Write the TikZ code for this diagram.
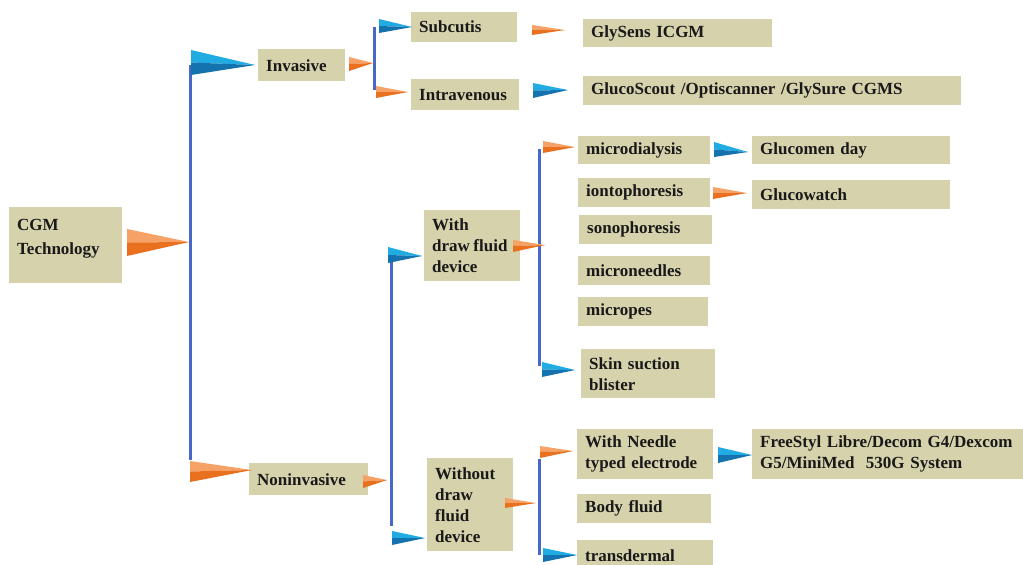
\documentclass[tikz,border=0pt]{standalone}
\usepackage{fontspec}
\setmainfont{Liberation Serif}
\definecolor{boxfill}{RGB}{214,210,172}
\definecolor{olight}{RGB}{246,162,102}
\definecolor{odark}{RGB}{232,112,30}
\definecolor{blight}{RGB}{32,172,226}
\definecolor{bdark}{RGB}{20,114,174}
\definecolor{lineblue}{RGB}{72,104,200}
\tikzset{
  box/.style={fill=boxfill, draw=none, anchor=north west, inner xsep=8pt, inner ysep=0pt,
    align=left, font=\bfseries\fontsize{17}{21}\selectfont, text=black!90},
  vline/.style={draw=lineblue, line width=3pt},
}
\newcommand{\mybox}[7][]{%
  \pgfmathsetmacro{\bw}{#5-#3}\pgfmathsetmacro{\bh}{#6-#4}\pgfmathsetmacro{\tw}{#5-#3-16}%
  \node[box, minimum width=\bw pt, minimum height=\bh pt, text width=\tw pt, #1] (#2) at (#3,#4) {#7};%
}
\newcommand{\flag}[7]{%
  \fill[#1] (#3,#4) -- (#6,#7) -- (#3,{(#4+#5)/2}) -- cycle;
  \fill[#2] (#3,{(#4+#5)/2}) -- (#6,#7) -- (#3,#5) -- cycle;
}
\newcommand{\oflag}{\flag{olight}{odark}}
\newcommand{\bflag}{\flag{blight}{bdark}}
\begin{document}
\begin{tikzpicture}[x=1pt,y=-1pt]
\useasboundingbox (0,0) rectangle (1023,565);
\fill[white] (0,0) rectangle (1023,565);
\clip (0,0) rectangle (1023,565);

% boxes
\mybox{cgm}{9}{207}{122}{283}{\fontsize{17}{24}\selectfont CGM\\Technology\\[-4pt]\mbox{}}
\mybox{inv}{258}{49}{345}{81}{Invasive}
\mybox{sub}{411}{12}{517}{42}{Subcutis}
\mybox{intra}{411}{79}{519}{110}{Intravenous}
\mybox{glys}{583}{19}{772}{47}{GlySens ICGM}
\mybox{glucos}{583}{76}{961}{105}{GlucoScout /Optiscanner /GlySure CGMS}
\mybox{noninv}{249}{463}{368}{495}{Noninvasive}
\mybox{withd}{424}{210}{520}{281}{With\\draw\hspace{3.5pt}fluid\\device}
\mybox{without}{427}{458}{513}{551}{Without\\draw\\fluid\\device}
\mybox{micro}{578}{136}{710}{164}{microdialysis}
\mybox{ionto}{578}{178}{710}{207}{iontophoresis}
\mybox{sono}{579}{215}{712}{244}{sonophoresis}
\mybox{needles}{578}{256}{710}{285}{microneedles}
\mybox{micropes}{578}{297}{708}{326}{micropes}
\mybox{skin}{581}{349}{715}{398}{Skin suction\\blister}
\mybox{gday}{752}{136}{950}{164}{Glucomen day}
\mybox{gwatch}{752}{180}{950}{209}{Glucowatch}
\mybox{needle}{577}{429}{713}{479}{With Needle\\typed electrode}
\mybox{body}{577}{494}{711}{523}{Body fluid}
\mybox{trans}{577}{540}{713}{570}{transdermal}
\mybox{free}{752}{429}{1040}{479}{FreeStyl Libre/Decom G4/Dexcom\\G5/MiniMed\ \ 530G System}

% bracket lines
\draw[vline] (190,65) -- (190,460);
\draw[vline] (374,27) -- (374,90);
\draw[vline] (391,258) -- (391,526);
\draw[vline] (539,149) -- (539,366);
\draw[vline] (539,459) -- (539,555);

% flags
\oflag{127}{229}{256}{189}{242}
\bflag{191}{50}{75}{255}{65}
\oflag{349}{57}{71}{373}{63}
\bflag{379}{19}{33}{412}{27}
\oflag{376}{86}{98}{408}{92}
\oflag{532}{25}{35}{565}{30}
\bflag{533}{83}{98}{568}{90}
\oflag{190}{461}{482}{252}{470}
\oflag{363}{475}{488}{387}{480}
\bflag{388}{247}{263}{422}{256}
\bflag{392}{531}{545}{425}{538}
\oflag{513}{240}{252}{545}{245}
\oflag{543}{141}{153}{575}{147}
\bflag{542}{362}{377}{575}{370}
\bflag{714}{142}{157}{748}{152}
\oflag{713}{187}{199}{747}{193}
\oflag{505}{498}{508}{536}{503}
\oflag{540}{446}{458}{573}{451}
\bflag{543}{548}{562}{577}{555}
\bflag{718}{447}{463}{752}{455}
\end{tikzpicture}
\end{document}
